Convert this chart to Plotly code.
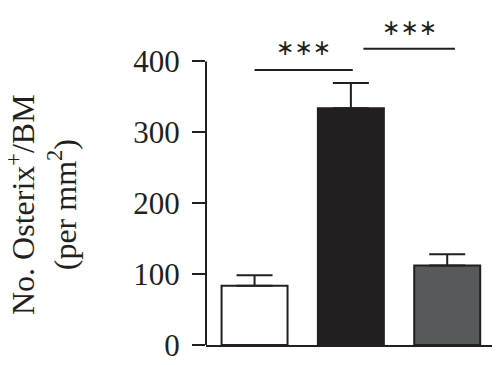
import plotly.graph_objects as go

groups = ["A", "B", "C"]
values = [83.5, 334, 112]
errors = [15, 35.5, 16]
fill_colors = ["#ffffff", "#231f20", "#58595b"]

y_ticks = [0, 100, 200, 300, 400]

# significance brackets
sig_x0 = [0.0, 1.13]
sig_x1 = [1.02, 2.08]
sig_y = [388, 418]
sig_text_y = [419, 448]
sig_label = ["∗∗∗", "∗∗∗"]

ink = "#231f20"
font_family = "Liberation Serif"

fig = go.Figure()
fig.add_trace(go.Bar(
    x=[0, 1, 2],
    y=values,
    width=0.685,
    marker=dict(color=fill_colors, line=dict(color=ink, width=2)),
    error_y=dict(type="data", array=errors, arrayminus=[0, 0, 0], symmetric=False,
                 color=ink, thickness=2, width=18),
    showlegend=False,
))

for x0, x1, y, ty, lab in zip(sig_x0, sig_x1, sig_y, sig_text_y, sig_label):
    fig.add_trace(go.Scatter(x=[x0, x1], y=[y, y], mode="lines",
                             line=dict(color=ink, width=2), showlegend=False,
                             cliponaxis=False, hoverinfo="skip"))
    fig.add_annotation(x=(x0 + x1) / 2, y=ty, text=lab, showarrow=False,
                       font=dict(family="DejaVu Sans", size=22, color=ink),
                       xanchor="center", yanchor="middle")

# y axis line drawn only from 0 to 400
fig.add_shape(type="line", xref="paper", yref="y", x0=0, x1=0, y0=0, y1=400,
              line=dict(color=ink, width=2))

fig.add_annotation(
    xref="paper", yref="y", x=-0.56, y=198,
    text="No. Osterix<sup>+</sup>/BM<br>(per mm<sup>2</sup>)",
    textangle=-90, showarrow=False,
    font=dict(family=font_family, size=32, color=ink),
    xanchor="center", yanchor="middle",
)

fig.update_layout(
    width=492, height=357,
    margin=dict(l=198, r=0, t=17.5, b=20),
    plot_bgcolor="white", paper_bgcolor="white",
    font=dict(family=font_family, color=ink),
    xaxis=dict(range=[-0.504, 2.548], showticklabels=False, ticks="",
               showgrid=False, zeroline=False, showline=True,
               linecolor=ink, linewidth=2),
    yaxis=dict(range=[0, 450], tickvals=y_ticks, ticks="outside", ticklen=13,
               tickwidth=2, tickcolor=ink, showgrid=False, zeroline=False,
               showline=False, ticklabelstandoff=6,
               tickfont=dict(family=font_family, size=31, color=ink)),
)

fig.write_html("out.html")
